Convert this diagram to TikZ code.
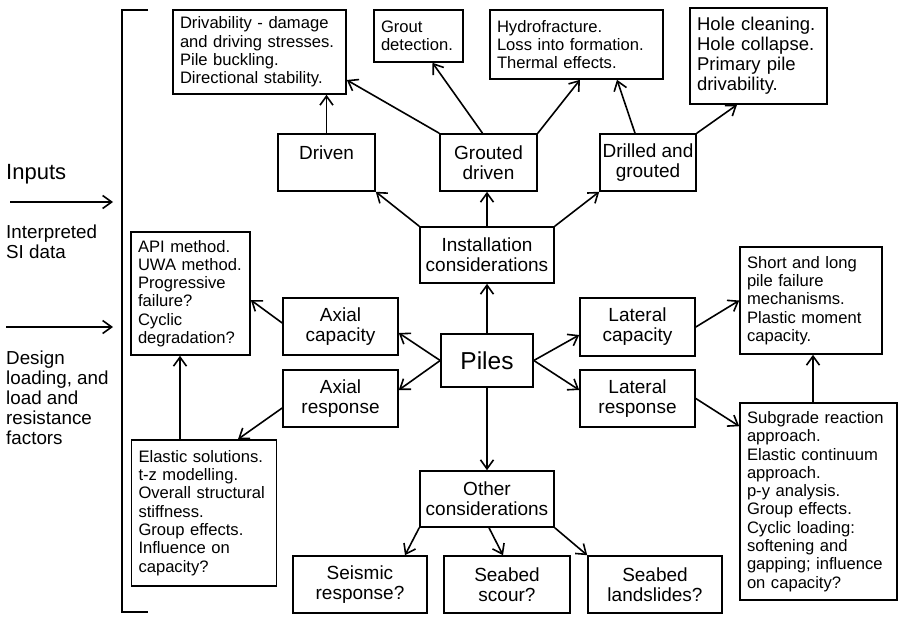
\documentclass[tikz,border=0pt]{standalone}
\usepackage{fontspec}
\setmainfont{Liberation Sans}
\usetikzlibrary{arrows.meta}
\begin{document}
\begin{tikzpicture}[x=1pt,y=-1pt]
  \tikzstyle{box}=[draw=black, line width=1.6pt, align=center, inner sep=2pt, font=\fontsize{19}{20}\selectfont]
  \tikzstyle{note}=[draw=black, line width=1.6pt, align=left, inner xsep=7pt, inner ysep=3pt, font=\fontsize{16.6}{18.3}\selectfont]
  \tikzstyle{side}=[inner sep=0pt, align=left, anchor=north west, font=\fontsize{18.8}{20}\selectfont]
  \tikzstyle{link}=[line width=1.6pt, -{Straight Barb[length=9pt,width=13pt]}]

  \useasboundingbox (0,0) rectangle (910,631);

  % inputs on the left
  \node[side, font=\fontsize{22}{24}\selectfont] (inputs) at (6,164) {Inputs};
  \node[side] (sidata) at (6,225) {Interpreted\\SI data};
  \node[side] (design) at (6,351) {Design\\loading, and\\load and\\resistance\\factors};
  \coordinate (in1) at (10,202);
  \coordinate (out1) at (113,202);
  \coordinate (in2) at (6,327);
  \coordinate (out2) at (113,327);
  \draw[link] (in1) -- (out1);
  \draw[link] (in2) -- (out2);
  \draw[line width=1.6pt] (148,10) -- (122,10) -- (122,612) -- (148,612);

  % installation
  \node[note, text width=159pt, minimum height=84pt] (drive) at (259.5,52) {Drivability - damage\\and driving stresses.\\Pile buckling.\\Directional stability.};
  \node[note, text width=75pt, minimum height=52pt] (grout) at (418.5,36) {Grout\\detection.};
  \node[note, text width=159pt, minimum height=69pt] (hydro) at (576.5,44.5) {Hydrofracture.\\Loss into formation.\\Thermal effects.};
  \node[note, text width=123pt, minimum height=96pt, font=\fontsize{18.5}{20}\selectfont] (hole) at (758.5,56) {Hole cleaning.\\Hole collapse.\\Primary pile\\drivability.};
  \node[box, minimum width=97pt, minimum height=57pt] (driven) at (326.5,162.5) {Driven\\\mbox{}};
  \node[box, minimum width=97pt, minimum height=57pt] (grouted) at (488.5,162.5) {Grouted\\driven};
  \node[box, minimum width=96pt, minimum height=57pt] (drilled) at (648,162.5) {Drilled and\\grouted};
  \node[box, minimum width=134pt, minimum height=56pt] (install) at (487,255) {Installation\\considerations};

  % axial
  \node[note, text width=105pt, minimum height=123pt] (api) at (190.5,293.5) {API method.\\UWA method.\\Progressive\\failure?\\Cyclic\\degradation?};
  \node[box, minimum width=115pt, minimum height=57pt] (axcap) at (340.5,326.5) {Axial\\capacity};
  \node[box, minimum width=115pt, minimum height=57pt] (axresp) at (340.5,398.5) {Axial\\response};
  \node[note, text width=131pt, minimum height=146pt] (elastic) at (204,513) {Elastic solutions.\\t-z modelling.\\Overall structural\\stiffness.\\Group effects.\\Influence on\\capacity?};

  \node[box, minimum width=92pt, minimum height=53pt, font=\fontsize{24.5}{26}\selectfont] (piles) at (487,360.5) {Piles};

  % lateral
  \node[box, minimum width=115pt, minimum height=58pt] (latcap) at (637.5,327) {Lateral\\capacity};
  \node[box, minimum width=115pt, minimum height=57pt] (latresp) at (637.5,398.5) {Lateral\\response};
  \node[note, text width=128pt, minimum height=107pt] (short) at (811,300.5) {Short and long\\pile failure\\mechanisms.\\Plastic moment\\capacity.};
  \node[note, text width=143pt, minimum height=197pt] (subgrade) at (818.5,501.5) {Subgrade reaction\\approach.\\Elastic continuum\\approach.\\p-y analysis.\\Group effects.\\Cyclic loading:\\softening and\\gapping; influence\\on capacity?};

  % other
  \node[box, minimum width=134pt, minimum height=56pt] (other) at (487,499) {Other\\considerations};
  \node[box, minimum width=134pt, minimum height=57pt] (seismic) at (360,584.5) {Seismic\\response?};
  \node[box, minimum width=126pt, minimum height=57pt] (scour) at (507,584.5) {Seabed\\scour?};
  \node[box, minimum width=134pt, minimum height=57pt] (slides) at (655,584.5) {Seabed\\landslides?};

  \draw[link] (driven.north) -- (driven.north |- drive.south);
  \draw[link] (grouted.north west) -- ([yshift=-28pt]drive.east);
  \draw[link] ([xshift=-6pt]grouted.north) -- ([xshift=14pt]grout.south);
  \draw[link] (grouted.north east) -- ([xshift=3.5pt]hydro.south);
  \draw[link] ([xshift=-13pt]drilled.north) -- ([xshift=40.5pt]hydro.south);
  \draw[link] (drilled.north east) -- ([xshift=-21.5pt]hole.south);
  \draw[link] (install.north) -- (install.north |- grouted.south);
  \draw[link] (install.north west) -- (driven.south east);
  \draw[link] (install.north east) -- (drilled.south west);
  \draw[link] (piles.north) -- (install.south);

  \draw[link] (piles.west) -- ([yshift=-6.5pt]axcap.east);
  \draw[link] (piles.west) -- ([yshift=8.5pt]axresp.east);
  \draw[link] ([yshift=3.5pt]axcap.west) -- ([yshift=-6.5pt]api.east);
  \draw[link] ([yshift=-9.5pt]axresp.west) -- ([xshift=34pt]elastic.north);
  \draw[link] ([xshift=-24pt]elastic.north) -- ([xshift=-24pt]elastic.north |- api.south);

  \draw[link] (piles.east) -- ([yshift=-8pt]latcap.west);
  \draw[link] (piles.east) -- ([yshift=8.5pt]latresp.west);
  \draw[link] (latcap.east) -- (short.west);
  \draw[link] (latresp.east) -- ([yshift=-24pt]subgrade.north west);
  \draw[link] ([xshift=-5.5pt]subgrade.north) -- ([xshift=-5.5pt]subgrade.north |- short.south);

  \draw[link] (piles.south) -- (other.north);
  \draw[link] (other.south west) -- ([xshift=45pt]seismic.north);
  \draw[link] ([xshift=2pt]other.south) -- ([xshift=-4pt]scour.north);
  \draw[link] (other.south east) -- (slides.north west);
\end{tikzpicture}
\end{document}
